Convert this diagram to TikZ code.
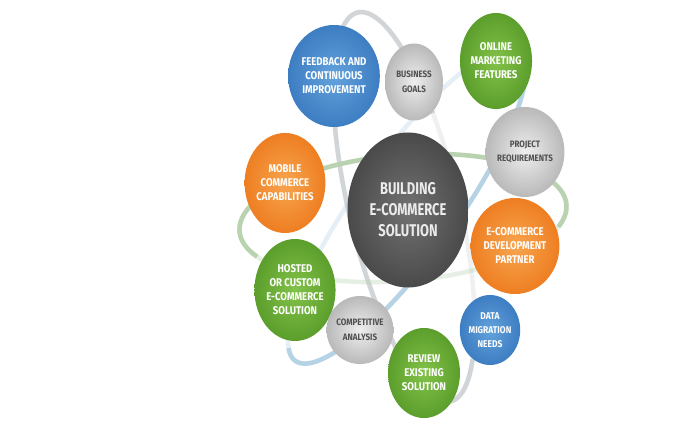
\documentclass[tikz,border=0pt]{standalone}
\usepackage{fontspec}
\setmainfont{Fira Sans}[FakeStretch=0.86]
\newfontfamily\centerfont{Fira Sans}[FakeStretch=0.76]
\usetikzlibrary{shapes.geometric}
\definecolor{blueL}{HTML}{62A2DC}
\definecolor{blueD}{HTML}{3D7DC2}
\definecolor{greenL}{HTML}{82C249}
\definecolor{greenD}{HTML}{5C9E2C}
\definecolor{orangeL}{HTML}{F7A54E}
\definecolor{orangeD}{HTML}{EE7E22}
\definecolor{grayL}{HTML}{EEEEEE}
\definecolor{grayD}{HTML}{B9B9B9}
\definecolor{darkL}{HTML}{717171}
\definecolor{darkD}{HTML}{4A4A4A}
\definecolor{grayText}{HTML}{505050}
\definecolor{orbGray}{HTML}{D2D5D7}
\definecolor{orbGreen}{HTML}{B9D3B1}
\definecolor{orbBlue}{HTML}{B6D3E5}
\begin{document}
\begin{tikzpicture}[x=1pt,y=-1pt,
  bubble/.style={ellipse, inner sep=0pt, align=center},
  sz/.style 2 args={minimum width=#1, minimum height=#2},
  smalltext/.style={font=\fontsize{11.2}{14}\selectfont\bfseries},
  graytext/.style={font=\fontsize{9.3}{14.5}\selectfont\bfseries},
  bluebub/.style={bubble, smalltext, inner color=blueL, outer color=blueD, text=white},
  greenbub/.style={bubble, smalltext, inner color=greenL, outer color=greenD, text=white},
  orangebub/.style={bubble, smalltext, inner color=orangeL, outer color=orangeD, text=white},
  graybub/.style={bubble, graytext, inner color=grayL, outer color=grayD, text=grayText},
  centerbub/.style={bubble, font=\centerfont\fontsize{17}{21}\selectfont\bfseries, inner color=darkL, outer color=darkD, text=white!92!black},
  orbit/.style={line width=4.5pt},
  faint/.style={line width=4.5pt, opacity=0.35}
]
\useasboundingbox (0,0) rectangle (674,427);
\fill[white] (0,0) rectangle (674,427);

% gray orbit
\begin{scope}[shift={(404,207)}, rotate=-76.6]
  \draw[faint, orbGray] (0,0) ellipse [x radius=200, y radius=55];
  \draw[orbit, orbGray] (-35:200 and 55) arc [start angle=-35, end angle=245, x radius=200, y radius=55];
\end{scope}
% green orbit
\begin{scope}[shift={(403,218)}, rotate=4.7]
  \draw[faint, orbGreen] (0,0) ellipse [x radius=164, y radius=63];
  \draw[orbit, orbGreen] (155:164 and 63) arc [start angle=155, end angle=380, x radius=164, y radius=63];
\end{scope}
% blue orbit
\begin{scope}[shift={(407,206)}, rotate=54.2]
  \draw[faint, orbBlue] (0,0) ellipse [x radius=191, y radius=50];
  \draw[orbit, orbBlue] (-10:191 and 50) arc [start angle=-10, end angle=195, x radius=191, y radius=50];
\end{scope}

% bubbles
\node[bluebub, sz={80pt}{102pt}] (fb) at (334,76) {FEEDBACK AND\\CONTINUOUS\\IMPROVEMENT};
\node[graybub, sz={58pt}{77pt}] (bg) at (414,82) {BUSINESS\\GOALS};
\node[greenbub, sz={72pt}{96pt}] (om) at (496,61) {ONLINE\\MARKETING\\FEATURES};
\node[graybub, sz={65pt}{90pt}] (pr) at (525,152) {PROJECT\\REQUIREMENTS};
\node[orangebub, sz={80pt}{100pt}] (mc) at (285,183) {MOBILE\\COMMERCE\\CAPABILITIES};
\node[centerbub, sz={121pt}{155pt}] (cs) at (408,210) {BUILDING\\E-COMMERCE\\SOLUTION};
\node[orangebub, sz={77pt}{96pt}] (ep) at (515,246) {E-COMMERCE\\DEVELOPMENT\\PARTNER};
\node[greenbub, sz={80pt}{102pt}] (hc) at (295,290) {HOSTED\\OR CUSTOM\\E-COMMERCE\\SOLUTION};
\node[graybub, sz={52pt}{68pt}] (ca) at (360,330) {COMPETITIVE\\ANALYSIS};
\node[greenbub, sz={72pt}{90pt}] (re) at (424,373) {REVIEW\\EXISTING\\SOLUTION};
\node[bluebub, sz={56pt}{70pt}, font=\fontsize{9.8}{14}\selectfont\bfseries] (dm) at (490,330) {DATA\\MIGRATION\\NEEDS};
\end{tikzpicture}
\end{document}
